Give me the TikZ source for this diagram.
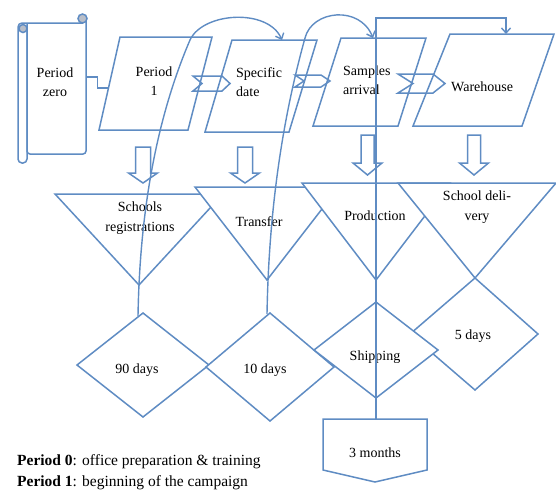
\documentclass[tikz,border=0pt]{standalone}
\usepackage{fontspec}
\setmainfont{Liberation Serif}
\usetikzlibrary{arrows.meta}
\definecolor{wblue}{RGB}{95,140,195}
\definecolor{curlgray}{RGB}{185,190,200}
\begin{document}
\begin{tikzpicture}[x=1pt,y=-1pt,
  ln/.style={draw=wblue, line width=1.5pt, line join=miter},
  shp/.style={ln, fill=white},
  txt/.style={font=\fontsize{14}{19.5}\selectfont, align=center, inner sep=0pt},
  con/.style={draw=wblue, line width=1.4pt},
  tipend/.style={-{Straight Barb[length=5pt,width=9pt]}}
]
\useasboundingbox (0,0) rectangle (556,491);

% ---------- parallelograms ----------
\draw[shp] (120,37) -- (212,37) -- (188,130) -- (99,130) -- cycle;
\draw[shp] (232,40) -- (317,40) -- (289,132) -- (205,132) -- cycle;
\draw[shp] (341,38) -- (426,38) -- (398,126) -- (313,126) -- cycle;
\draw[shp] (450,34) -- (554,34) -- (522,126) -- (413,126) -- cycle;

% ---------- chevrons ----------
\draw[ln] (193,76) -- (222,76) -- (230,83.5) -- (222,91) -- (193,91) -- (202,83.5) -- cycle;
\draw[ln] (295,75) -- (321,75) -- (330,81) -- (321,87) -- (295,87) -- (304,81) -- cycle;
\draw[ln] (398,74) -- (433,74) -- (445,83.5) -- (433,93) -- (398,93) -- (413,83.5) -- cycle;

% ---------- scroll ----------
\draw[shp, rounded corners=3] (27,23) -- (27,154) -- (86,154) -- (86,19);
\draw[ln, rounded corners=4] (27,30) -- (27,163) -- (18,163) -- (18,23) -- (83,23);
\draw[ln, fill=curlgray] (82.5,18.5) circle (4.5);
\draw[ln, fill=curlgray] (23,28.5) circle (4);
\node[inner sep=0pt, minimum width=59pt, minimum height=131pt] (scroll) at (56.5,88.5) {};

% ---------- block arrows down ----------
\draw[ln] (135.5,147) -- (150.5,147) -- (150.5,173) -- (157.5,173) -- (143,183) -- (128.5,173) -- (135.5,173) -- cycle;
\draw[ln] (237.5,147) -- (252.5,147) -- (252.5,173) -- (259.5,173) -- (245,183) -- (230.5,173) -- (237.5,173) -- cycle;
\draw[ln] (361,135) -- (374,135) -- (374,163) -- (382,163) -- (367.5,175) -- (353,163) -- (361,163) -- cycle;
\draw[ln] (467.5,135) -- (480.5,135) -- (480.5,163) -- (488.5,163) -- (474,175) -- (459.5,163) -- (467.5,163) -- cycle;

% ---------- triangles ----------
\draw[shp] (55,194) -- (223,194) -- (139,285) -- cycle;
\draw[shp] (195,187) -- (339,187) -- (267,280) -- cycle;
\draw[shp] (302,183) -- (450,183) -- (376,280) -- cycle;
\draw[shp] (398,183) -- (556,183) -- (475,278) -- cycle;

% ---------- diamonds ----------
\draw[shp] (143,313) -- (209,365) -- (143,417) -- (77,365) -- cycle;
\draw[shp] (270,313) -- (334,367) -- (270,421) -- (206,367) -- cycle;
\draw[shp] (475,278) -- (538,334) -- (475,390) -- (410,334) -- cycle;
\draw[shp] (376,302) -- (438,350) -- (376,398) -- (314,350) -- cycle;

% ---------- pentagon ----------
\draw[shp] (323,419) -- (427,419) -- (427,470) -- (375,482) -- (323,470) -- cycle;

% ---------- texts ----------
\node[txt] (p0) at (55,82) {Period\\zero};
\node[txt] (p1) at (154,81) {Period\\1};
\node[txt, align=left, anchor=west] (sd) at (236,82) {Specific\\date};
\node[txt, align=left, anchor=west] (sa) at (343,80) {Samples\\arrival};
\node[txt, anchor=west] (wh) at (451,87) {Warehouse};
\node[txt] (t1) at (140,218) {Schools\\registrations};
\node[txt] (t2) at (259,222) {Transfer};
\node[txt] (t3) at (375,216) {Production};
\node[txt] (t4) at (477,207) {School deli-\\very};
\node[txt] (d1) at (137,370) {90 days};
\node[txt] (d2) at (265,370) {10 days};
\node[txt] (d3) at (375,357) {Shipping};
\node[txt] (d4) at (473,336) {5 days};
\node[txt] (mon) at (375,453) {3 months};
\node[anchor=west, inner sep=0pt, font=\fontsize{15.5}{18}\selectfont] (n0) at (17,462) {\textbf{Period 0}: office preparation \& training};
\node[anchor=west, inner sep=0pt, font=\fontsize{15.5}{18}\selectfont] (n1) at (17,483) {\textbf{Period 1}: beginning of the campaign};

% ---------- attachment points ----------
\coordinate (p1w) at (108.5,88);
\coordinate (montop) at (376,419);
\coordinate (whtop) at (506,34);
\coordinate (d1top) at (138,316);
\coordinate (sdtop) at (282,40);
\coordinate (d2top) at (267,314);
\coordinate (satop) at (373,38);

% ---------- connectors ----------
\draw[con] ([yshift=11.5pt]scroll.east) -- ++(11,0) |- (p1w);
\draw[con, tipend] (montop) -- ++(0,-401) -| (whtop);
\draw[con, tipend] (d1top) .. controls (140,200) and (160,110) .. (190,40) .. controls (203,12) and (268,8) .. (sdtop);
\draw[con, tipend] (d2top) .. controls (269,200) and (285,110) .. (305,38) .. controls (312,10) and (360,5) .. (satop);
\end{tikzpicture}
\end{document}
